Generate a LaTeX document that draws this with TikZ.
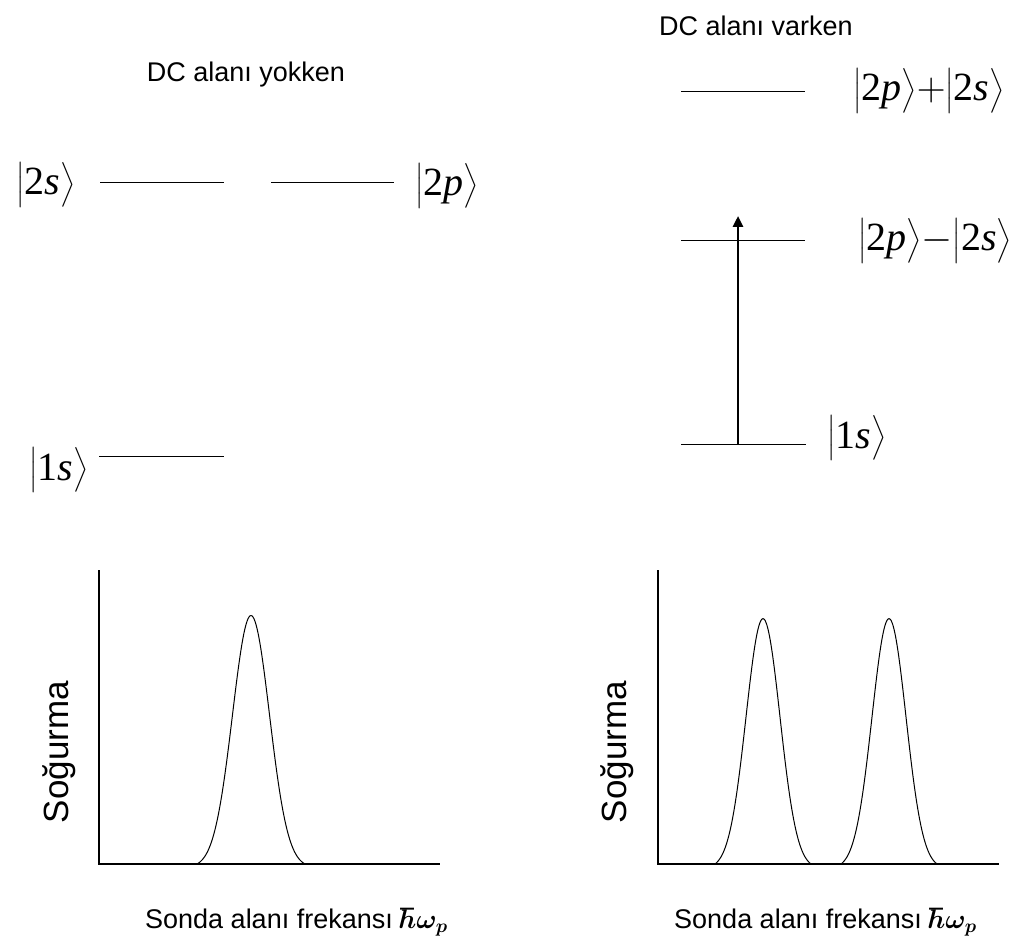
\RequirePackage{fix-cm}
\documentclass[tikz,border=0pt]{standalone}
\usepackage{amsmath,bm}
\usepackage{fontspec}
\setmainfont{Liberation Serif}
\setsansfont{Liberation Sans}
\usetikzlibrary{arrows.meta}
\newcommand\myket[1]{$\big|$#1$\big\rangle$}
\tikzset{
  level/.style={line width=1pt},
  lbl/.style={font=\sffamily\fontsize{27}{32}\selectfont, inner sep=0pt},
  ket/.style={font=\fontsize{40}{40}\selectfont, inner sep=0pt},
  axis/.style={line width=1.2pt},
  curve/.style={line width=1pt},
  ylab/.style={font=\sffamily\fontsize{35}{40}\selectfont, rotate=90, inner sep=0pt},
  pump/.style={line width=2.5pt, -{Triangle[length=11pt,width=10pt]}},
}
\begin{document}
\begin{tikzpicture}[x=1pt,y=-1pt]
\useasboundingbox (0,0) rectangle (1024,941);
% titles
\node[lbl, anchor=base] (t1) at (246,82) {DC alanı yokken};
\node[lbl, anchor=base] (t2) at (756,36) {DC alanı varken};
% left levels
\coordinate (s2a) at (100,183); \coordinate (s2b) at (224,183);
\coordinate (p2a) at (271,183); \coordinate (p2b) at (394,183);
\coordinate (s1a) at (99,456);  \coordinate (s1b) at (224,456);
\draw[level] (s2a) -- (s2b);
\draw[level] (p2a) -- (p2b);
\draw[level] (s1a) -- (s1b);
\node[ket] (k2s) at (46,185) {\myket{2\textit{s}}};
\node[ket] (k2p) at (447,186) {\myket{2\textit{p}}};
\node[ket] (k1s) at (59,470) {\myket{1\textit{s}}};
% right levels
\coordinate (ua) at (681,92);  \coordinate (ub) at (805,92);
\coordinate (ma) at (681,240); \coordinate (mb) at (805,240);
\coordinate (la) at (681,444); \coordinate (lb) at (806,444);
\draw[level] (ua) -- (ub);
\draw[level] (ma) -- (mb);
\draw[level] (la) -- (lb);
\node[ket] (kp) at (929,91) {\myket{2\textit{p}}$+$\myket{2\textit{s}}};
\node[ket] (km) at (935,241) {\myket{2\textit{p}}$-$\myket{2\textit{s}}};
\node[ket] (k1sr) at (857,438) {\myket{1\textit{s}}};
\coordinate (pa) at (738,444); \coordinate (pb) at (738,216);
\draw[pump] (pa) -- (pb);
% left plot
\draw[axis] (99,570) -- (99,864) -- (440,864);
\draw[curve] plot[domain=-54:54,samples=109,smooth] ({251+\x},{864-252*(exp(-(\x*\x)/684.5)-0.0141)});
\node[ylab] (y1) at (59,752) {Soğurma};
\node[lbl, anchor=base west] (f1) at (145,928) {Sonda alanı frekansı $\bm{\hbar\omega_{p}}$};
% right plot
\draw[axis] (658,570) -- (658,864) -- (999,864);
\draw[curve] plot[domain=-48:48,samples=97,smooth] ({763+\x},{864-250*(exp(-(\x*\x)/578)-0.0186)});
\draw[curve] plot[domain=-48:48,samples=97,smooth] ({889+\x},{864-250*(exp(-(\x*\x)/578)-0.0186)});
\node[ylab] (y2) at (617,752) {Soğurma};
\node[lbl, anchor=base west] (f2) at (674,928) {Sonda alanı frekansı $\bm{\hbar\omega_{p}}$};
\end{tikzpicture}
\end{document}
